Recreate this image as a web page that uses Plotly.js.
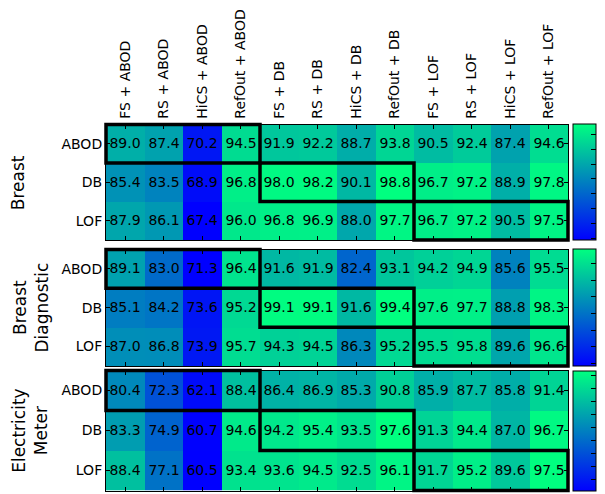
<!DOCTYPE html>
<html>
<head>
<meta charset="utf-8">
<script src="https://cdn.plot.ly/plotly-3.0.1.min.js"></script>
<style>html,body{margin:0;padding:0;background:#fff;}#chart{width:605px;height:494px;}</style>
</head>
<body>
<div id="chart"></div>
<script>
const columns = ["FS + ABOD","RS + ABOD","HiCS + ABOD","RefOut + ABOD",
                 "FS + DB","RS + DB","HiCS + DB","RefOut + DB",
                 "FS + LOF","RS + LOF","HiCS + LOF","RefOut + LOF"];
const rows = ["ABOD","DB","LOF"];
const datasets = ["Breast","Breast<br>Diagnostic","Electricity<br>Meter"];

const breast = [
  [89.0,87.4,70.2,94.5,91.9,92.2,88.7,93.8,90.5,92.4,87.4,94.6],
  [85.4,83.5,68.9,96.8,98.0,98.2,90.1,98.8,96.7,97.2,88.9,97.8],
  [87.9,86.1,67.4,96.0,96.8,96.9,88.0,97.7,96.7,97.2,90.5,97.5]
];
const breastDiagnostic = [
  [89.1,83.0,71.3,96.4,91.6,91.9,82.4,93.1,94.2,94.9,85.6,95.5],
  [85.1,84.2,73.6,95.2,99.1,99.1,91.6,99.4,97.6,97.7,88.8,98.3],
  [87.0,86.8,73.9,95.7,94.3,94.5,86.3,95.2,95.5,95.8,89.6,96.6]
];
const electricityMeter = [
  [80.4,72.3,62.1,88.4,86.4,86.9,85.3,90.8,85.9,87.7,85.8,91.4],
  [83.3,74.9,60.7,94.6,94.2,95.4,93.5,97.6,91.3,94.4,87.0,96.7],
  [88.4,77.1,60.5,93.4,93.6,94.5,92.5,96.1,91.7,95.2,89.6,97.5]
];
const values = [breast, breastDiagnostic, electricityMeter];

// layout geometry (pixels)
const W = 605, H = 494;
const mL = 106, mR = 32, mT = 124, mB = 3;
const plotH = H - mT - mB, plotW = W - mL - mR;
const panels = [[124.5, 240], [249.5, 366], [370.5, 490.5]];
function dom(p){ return [(H - mB - p[1]) / plotH, (H - mB - p[0]) / plotH]; }

const winter = [[0, 'rgb(0,0,255)'], [1, 'rgb(0,255,128)']];
const FONT = 'DejaVu Sans, sans-serif';

const traces = [];
const layout = {
  width: W, height: H,
  margin: {l: mL, r: mR, t: mT, b: mB, pad: 0},
  paper_bgcolor: '#fff', plot_bgcolor: '#fff',
  font: {family: FONT, size: 14, color: '#000'},
  showlegend: false,
  shapes: [], annotations: []
};

values.forEach((z, k) => {
  const n = k + 1;
  const xa = n === 1 ? 'x' : 'x' + n;
  const ya = n === 1 ? 'y' : 'y' + n;
  const d = dom(panels[k]);
  traces.push({
    type: 'heatmap', x: columns, y: rows, z: z,
    xaxis: xa, yaxis: ya,
    colorscale: winter, showscale: true,
    texttemplate: '%{z:.1f}',
    textfont: {family: FONT, size: 14, color: '#000'},
    hoverinfo: 'skip',
    colorbar: {
      x: (578 - mL) / plotW, xanchor: 'left', xpad: 0,
      y: (d[0] + d[1]) / 2, yanchor: 'middle', ypad: 0,
      len: d[1] - d[0], lenmode: 'fraction',
      thickness: 23, thicknessmode: 'pixels',
      outlinewidth: 1, outlinecolor: '#000',
      ticks: 'inside', ticklen: 5, tickwidth: 1, tickcolor: '#000',
      tick0: 0, dtick: 4, showticklabels: false
    }
  });
  layout[n === 1 ? 'xaxis' : 'xaxis' + n] = {
    domain: [0, 1], anchor: ya,
    type: 'category',
    side: n === 1 ? 'top' : 'bottom',
    showticklabels: n === 1, tickangle: -90,
    ticks: 'inside', ticklen: 4, tickwidth: 1, tickcolor: '#000',
    showline: true, linecolor: '#000', linewidth: 1, mirror: 'ticks',
    showgrid: false, zeroline: false,
    tickfont: {family: FONT, size: 14, color: '#000'}, ticklabelstandoff: 2
  };
  layout[n === 1 ? 'yaxis' : 'yaxis' + n] = {
    domain: d, anchor: xa,
    type: 'category', autorange: 'reversed',
    ticks: 'inside', ticklen: 4, tickwidth: 1, tickcolor: '#000',
    showline: true, linecolor: '#000', linewidth: 1, mirror: 'ticks',
    showgrid: false, zeroline: false,
    tickfont: {family: FONT, size: 14, color: '#000'}
  };
  // highlight boxes: each detector row with its own column block
  rows.forEach((r, i) => {
    layout.shapes.push({
      type: 'rect', xref: xa + ' domain', yref: ya + ' domain',
      x0: (4 * i) / columns.length, x1: (4 * i + 4) / columns.length,
      y0: 1 - i / rows.length, y1: 1 - (i + 1) / rows.length,
      line: {color: '#000', width: 3.5}, fillcolor: 'rgba(0,0,0,0)', layer: 'above'
    });
  });
  const cx = [17, 30, 28.5][k];
  layout.annotations.push({
    text: datasets[k], xref: 'paper', yref: 'paper',
    x: (cx - mL) / plotW, y: (d[0] + d[1]) / 2,
    xanchor: 'center', yanchor: 'middle', textangle: -90,
    showarrow: false, font: {family: FONT, size: 17, color: '#000'}
  });
});

Plotly.newPlot('chart', traces, layout, {staticPlot: true, displayModeBar: false});
</script>
</body>
</html>
